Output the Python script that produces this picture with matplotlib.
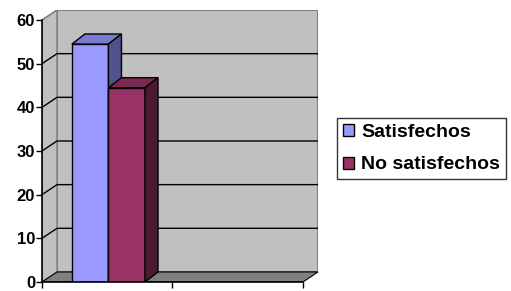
import matplotlib
matplotlib.use("Agg")
import matplotlib.pyplot as plt
from matplotlib.patches import Polygon

plt.rcParams['font.family'] = ['Liberation Sans', 'DejaVu Sans']

series = ["Satisfechos", "No satisfechos"]
values = [54.5, 44.5]
front_colors = ["#9999FF", "#993366"]
top_colors = ["#7B7BCF", "#7A2952"]
side_colors = ["#52528A", "#4D1A33"]
yticks = [0, 10, 20, 30, 40, 50, 60]

W, H = 511, 291
fig = plt.figure(figsize=(W / 100, H / 100), dpi=100)
ax = fig.add_axes([42 / W, 9 / H, (318 - 42) / W, (282 - 10) / H])

ncat = 2
dxu, dyu = 0.115, 2.3          # depth offset of back wall (data units)
bdx, bdy = 0.10, 2.3           # depth of bars
ymax = 60
ax.set_xlim(0, ncat + dxu)
ax.set_ylim(0, ymax + dyu)

wall = "#C0C0C0"
edge = "#808080"
# back wall
ax.add_patch(Polygon([(dxu, dyu), (ncat + dxu, dyu), (ncat + dxu, ymax + dyu), (dxu, ymax + dyu)],
                     closed=True, facecolor=wall, edgecolor=edge, lw=1.5, zorder=1))
# side wall
ax.add_patch(Polygon([(0, 0), (dxu, dyu), (dxu, ymax + dyu), (0, ymax)],
                     closed=True, facecolor=wall, edgecolor=edge, lw=1, zorder=1))
# floor
ax.add_patch(Polygon([(0, 0), (ncat, 0), (ncat + dxu, dyu), (dxu, dyu)],
                     closed=True, facecolor=edge, edgecolor="black", lw=0.8, zorder=1.5))
# gridlines
for v in yticks[1:-1]:
    ax.plot([0, dxu, ncat + dxu], [v, v + dyu, v + dyu], color="black", lw=1, zorder=2)
ax.plot([0, dxu], [ymax, ymax + dyu], color=edge, lw=1, zorder=2)

# bars
width = 0.28
x0 = 0.229
handles = []
for i, (name, v) in enumerate(zip(series, values)):
    left = x0 + i * width
    b = ax.bar(left, v, width=width, align="edge", color=front_colors[i],
               edgecolor="black", lw=1, zorder=3 + i, label=name)
    handles.append(b)
    ax.add_patch(Polygon([(left, v), (left + bdx, v + bdy), (left + width + bdx, v + bdy), (left + width, v)],
                         closed=True, facecolor=top_colors[i], edgecolor="black", lw=1, zorder=3 + i))
    ax.add_patch(Polygon([(left + width, 0), (left + width + bdx, bdy), (left + width + bdx, v + bdy), (left + width, v)],
                         closed=True, facecolor=side_colors[i], edgecolor="black", lw=1, zorder=3 + i))

# axes
for s in ["top", "right"]:
    ax.spines[s].set_visible(False)
ax.spines["left"].set_bounds(0, ymax)
ax.spines["bottom"].set_bounds(0, ncat)
ax.spines["left"].set_zorder(10)
ax.spines["bottom"].set_zorder(10)
ax.spines["left"].set_linewidth(1.2)
ax.spines["bottom"].set_linewidth(1.2)
ax.set_yticks(yticks)
ax.set_yticklabels([str(t) for t in yticks], fontweight="bold", fontsize=12)
ax.set_xticks([0, 1, 2])
ax.set_xticklabels([])
ax.tick_params(axis="both", direction="out", length=4, width=1, pad=1)
ax.patch.set_visible(False)

leg = fig.legend(handles=handles, labels=series, loc="upper left",
                 bbox_to_anchor=(337 / W, 1 - 118 / H), frameon=True, fancybox=False,
                 edgecolor="black", prop={"weight": "bold", "size": 14},
                 handlelength=0.57, handleheight=0.57, handletextpad=0.36,
                 borderpad=0.3, labelspacing=0.8, borderaxespad=0)
leg.get_frame().set_linewidth(1)

fig.savefig("out.png", dpi=100)
